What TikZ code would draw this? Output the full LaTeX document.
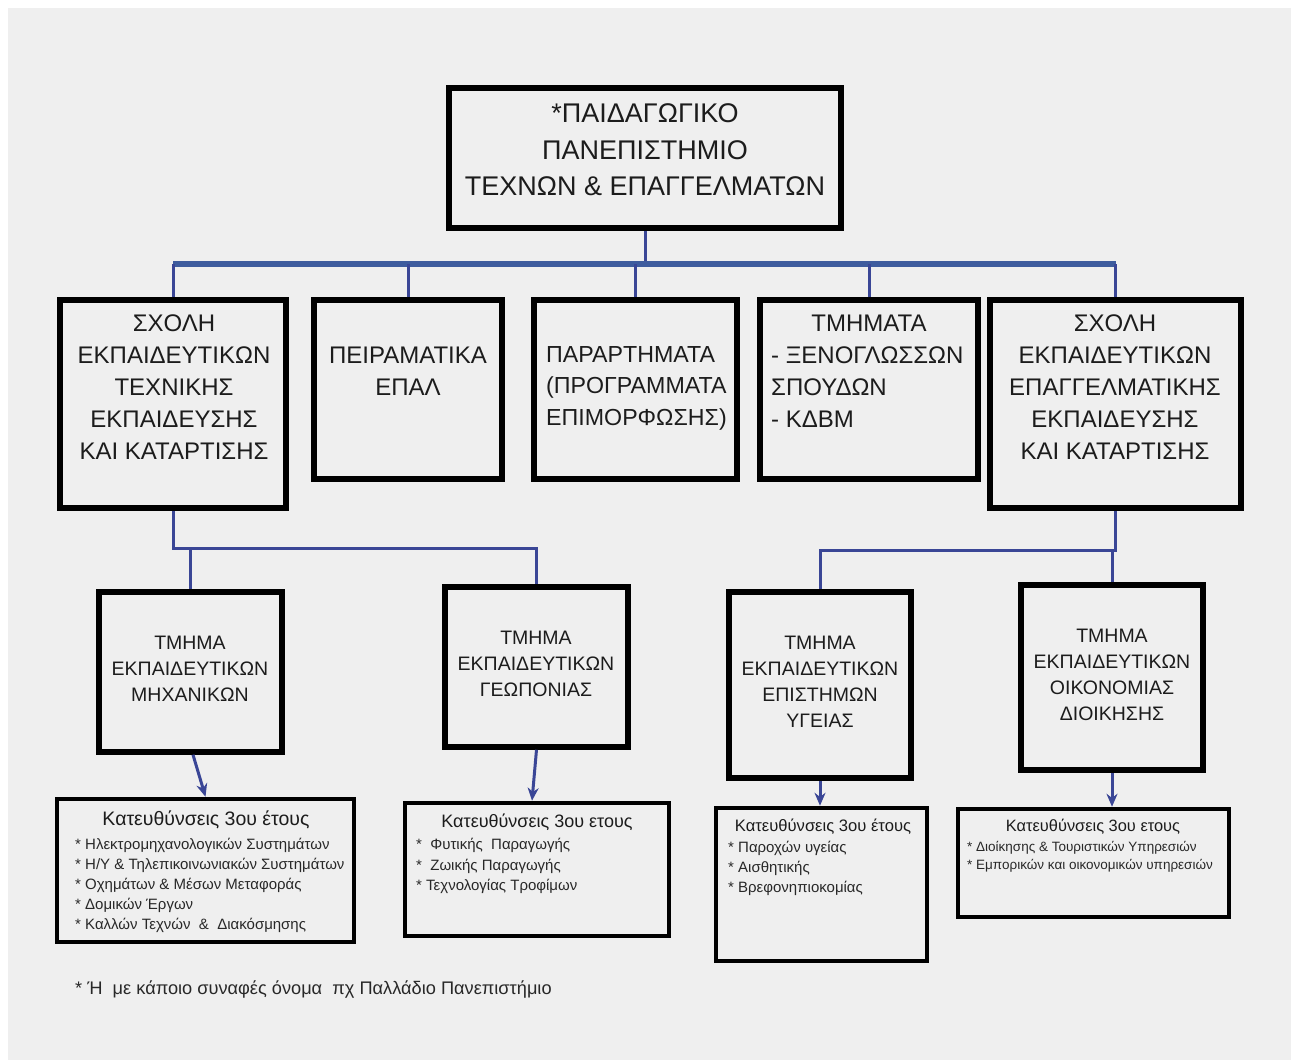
\documentclass[tikz,border=0pt]{standalone}
\usepackage{fontspec}
\setmainfont{Liberation Sans}
\usetikzlibrary{arrows.meta}
\definecolor{bgc}{RGB}{239,239,239}
\definecolor{busc}{RGB}{62,92,158}
\definecolor{linec}{RGB}{58,70,150}
\definecolor{txtc}{RGB}{28,28,28}
\definecolor{smallc}{RGB}{40,40,40}
\begin{document}
\begin{tikzpicture}[x=1pt,y=-1pt,
  box/.style={draw=black,line width=5.5pt,inner sep=0pt,rectangle},
  sbox/.style={draw=black,line width=4.5pt,inner sep=0pt,rectangle},
  lbl/.style={text=txtc,inner sep=0pt,align=center},
  lbll/.style={text=txtc,inner sep=0pt,align=left},
  slbl/.style={text=smallc,inner sep=0pt,align=left},
  topf/.style={font=\fontsize{27}{36.5}\selectfont},
  midf/.style={font=\fontsize{24}{32}\selectfont},
  depf/.style={font=\fontsize{19.5}{26}\selectfont},
  conn/.style={draw=linec,line width=3pt},
  busline/.style={draw=busc,line width=5.5pt},
  arr/.style={draw=linec,line width=3pt,-{Stealth[length=13pt,width=11pt]}}
]
\useasboundingbox (0,0) rectangle (1291,1060);
\fill[white] (0,0) rectangle (1291,1060);
\fill[bgc] (8,8) rectangle (1291,1060);

% boxes
\node[box,minimum width=392pt,minimum height=140pt] (top) at (645,158) {};
\node[box,minimum width=226pt,minimum height=208pt] (m1) at (173,404) {};
\node[box,minimum width=188pt,minimum height=179pt] (m2) at (408,389.5) {};
\node[box,minimum width=203pt,minimum height=179pt] (m3) at (635.5,389.5) {};
\node[box,minimum width=218pt,minimum height=179pt] (m4) at (869,389.5) {};
\node[box,minimum width=251pt,minimum height=208pt] (m5) at (1115.5,404) {};
\node[box,minimum width=183pt,minimum height=160pt] (d1) at (190.5,672) {};
\node[box,minimum width=183pt,minimum height=160pt] (d2) at (536.5,667) {};
\node[box,minimum width=182pt,minimum height=186pt] (d3) at (820,685) {};
\node[box,minimum width=182pt,minimum height=185pt] (d4) at (1112,677.5) {};
\node[sbox,minimum width=297pt,minimum height=143pt] (b1) at (205.5,870.5) {};
\node[sbox,minimum width=264pt,minimum height=133pt] (b2) at (537,869.5) {};
\node[sbox,minimum width=211pt,minimum height=153pt] (b3) at (821.5,884.5) {};
\node[sbox,minimum width=271pt,minimum height=108pt] (b4) at (1093.5,863) {};

% texts
\node[lbl,topf] (ttop) at (645,150) {*ΠΑΙΔΑΓΩΓΙΚΟ\\ΠΑΝΕΠΙΣΤΗΜΙΟ\\ΤΕΧΝΩΝ \& ΕΠΑΓΓΕΛΜΑΤΩΝ};
\node[lbl,midf] (tm1) at (174,387) {ΣΧΟΛΗ\\ΕΚΠΑΙΔΕΥΤΙΚΩΝ\\ΤΕΧΝΙΚΗΣ\\ΕΚΠΑΙΔΕΥΣΗΣ\\ΚΑΙ ΚΑΤΑΡΤΙΣΗΣ};
\node[lbl,midf] (tm2) at (408,371) {ΠΕΙΡΑΜΑΤΙΚΑ\\ΕΠΑΛ};
\node[lbll,font=\fontsize{23.2}{31.5}\selectfont,anchor=west] (tm3) at (546,388) {ΠΑΡΑΡΤΗΜΑΤΑ\\(ΠΡΟΓΡΑΜΜΑΤΑ\\ΕΠΙΜΟΡΦΩΣΗΣ)};
\node[lbl,midf] (tm4a) at (869,323) {ΤΜΗΜΑΤΑ};
\node[lbll,midf,anchor=west] (tm4b) at (771,387) {- ΞΕΝΟΓΛΩΣΣΩΝ\\ΣΠΟΥΔΩΝ\\- ΚΔΒΜ};
\node[lbl,midf] (tm5) at (1115,387) {ΣΧΟΛΗ\\ΕΚΠΑΙΔΕΥΤΙΚΩΝ\\ΕΠΑΓΓΕΛΜΑΤΙΚΗΣ\\ΕΚΠΑΙΔΕΥΣΗΣ\\ΚΑΙ ΚΑΤΑΡΤΙΣΗΣ};
\node[lbl,depf] (td1) at (190,669) {ΤΜΗΜΑ\\ΕΚΠΑΙΔΕΥΤΙΚΩΝ\\ΜΗΧΑΝΙΚΩΝ};
\node[lbl,depf] (td2) at (536,664) {ΤΜΗΜΑ\\ΕΚΠΑΙΔΕΥΤΙΚΩΝ\\ΓΕΩΠΟΝΙΑΣ};
\node[lbl,depf] (td3) at (820,682) {ΤΜΗΜΑ\\ΕΚΠΑΙΔΕΥΤΙΚΩΝ\\ΕΠΙΣΤΗΜΩΝ\\ΥΓΕΙΑΣ};
\node[lbl,depf] (td4) at (1112,675) {ΤΜΗΜΑ\\ΕΚΠΑΙΔΕΥΤΙΚΩΝ\\ΟΙΚΟΝΟΜΙΑΣ\\ΔΙΟΙΚΗΣΗΣ};

\node[lbl,font=\fontsize{19.5}{20}\selectfont] (tb1) at (206,820) {Κατευθύνσεις 3ου έτους};
\node[slbl,font=\fontsize{15}{20}\selectfont,anchor=north west] (ib1) at (75,838) {* Ηλεκτρομηχανολογικών Συστημάτων\\* Η/Υ \& Τηλεπικοινωνιακών Συστημάτων\\* Οχημάτων \& Μέσων Μεταφοράς\\* Δομικών Έργων\\* Καλλών Τεχνών \ \& \ Διακόσμησης};
\node[lbl,font=\fontsize{18}{20}\selectfont] (tb2) at (537,822) {Κατευθύνσεις 3ου ετους};
\node[slbl,font=\fontsize{15}{20.5}\selectfont,anchor=north west] (ib2) at (416,838) {* \ Φυτικής \ Παραγωγής\\* \ Ζωικής Παραγωγής\\* Τεχνολογίας Τροφίμων};
\node[lbl,font=\fontsize{16.6}{20}\selectfont] (tb3) at (823,827) {Κατευθύνσεις 3ου έτους};
\node[slbl,font=\fontsize{15}{20}\selectfont,anchor=north west] (ib3) at (728,841) {* Παροχών υγείας\\* Αισθητικής\\* Βρεφονηπιοκομίας};
\node[lbl,font=\fontsize{16.4}{20}\selectfont] (tb4) at (1093,827) {Κατευθύνσεις 3ου ετους};
\node[slbl,font=\fontsize{13.5}{18.5}\selectfont,anchor=north west] (ib4) at (967,841) {* Διοίκησης \& Τουριστικών Υπηρεσιών\\* Εμπορικών και οικονομικών υπηρεσιών};

\node[slbl,font=\fontsize{18.2}{20}\selectfont,anchor=west] (foot) at (75,990) {* Ή \ με κάποιο συναφές όνομα \ πχ Παλλάδιο Πανεπιστήμιο};

% connectors
\coordinate (busL) at (173,264);
\coordinate (busR) at (1115.5,264);
\draw[conn] (top.south) -- (top.south |- busL);
\draw[busline] (busL) -- (busR);
\foreach \m in {m1,m2,m3,m4,m5} {\draw[conn] (\m.north) -- (\m.north |- busL);}

\coordinate (jl) at (173,548);
\draw[conn] (m1.south) -- (jl) -- (jl -| d2.north) -- (d2.north);
\draw[conn] (d1.north |- jl) -- (d1.north);
\coordinate (jr) at (1115.5,550);
\draw[conn] (m5.south) -- (jr) -- (jr -| d3.north) -- (d3.north);
\draw[conn] (d4.north |- jr) -- (d4.north);

\draw[arr] ([xshift=2.5pt]d1.south) -- (b1.north);
\draw[arr] (d2.south) -- ([xshift=-5pt]b2.north);
\draw[arr] (d3.south) -- ([xshift=-1.5pt]b3.north);
\draw[arr] (d4.south) -- ([xshift=18.5pt]b4.north);
\end{tikzpicture}
\end{document}
